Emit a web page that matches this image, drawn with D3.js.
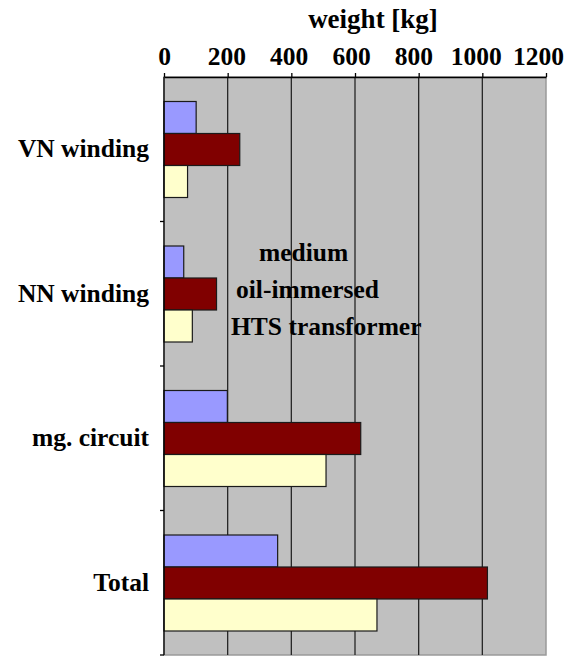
<!DOCTYPE html>
<html>
<head>
<meta charset="utf-8">
<script src="https://cdn.jsdelivr.net/npm/d3@7"></script>
<style>
	body { margin: 0; background: #fff; }
</style>
</head>
<body>
<svg id="chart" width="576" height="658"></svg>
<script>
var categories = ["VN winding", "NN winding", "mg. circuit", "Total"];
var seriesKeys = ["blue", "red", "yellow"];
var blueValues = [101, 62, 199, 357];
var redValues = [238, 165, 618, 1016];
var yellowValues = [74, 89, 509, 669];
var xTicks = [0, 200, 400, 600, 800, 1000, 1200];
var noteLines = ["medium", "oil-immersed", "HTS transformer"];

var seriesColor = { blue: "#9999ff", red: "#800000", yellow: "#ffffcc" };
var seriesValues = { blue: blueValues, red: redValues, yellow: yellowValues };

var fontFamily = "Liberation Serif, DejaVu Serif, serif";
var plotLeft = 164, plotRight = 546, plotTop = 77, plotBottom = 655;

var svg = d3.select("#chart");

var x = d3.scaleLinear().domain([0, 1200]).range([plotLeft, plotRight]);
var y0 = d3.scaleBand().domain(categories).range([plotTop, plotBottom]);
var y1 = d3.scaleBand().domain(seriesKeys)
	.range([24.5, y0.bandwidth() - 24]);

var styleText = function(sel, size){
	sel.attr("font-family", fontFamily)
		.attr("font-weight", "bold")
		.attr("font-size", size)
		.attr("fill", "#000");
};

// plot background
svg.append("rect")
	.attr("x", plotLeft).attr("y", plotTop)
	.attr("width", plotRight - plotLeft).attr("height", plotBottom - plotTop)
	.attr("fill", "#c0c0c0")
	.attr("stroke", "#9a9a9a")
	.attr("stroke-width", 1.5);

// gridlines
svg.append("g").selectAll("line").data(xTicks.slice(1, -1)).enter()
	.append("line")
	.attr("x1", function(d){ return x(d); })
	.attr("x2", function(d){ return x(d); })
	.attr("y1", plotTop).attr("y2", plotBottom)
	.attr("stroke", "#262626")
	.attr("stroke-width", 1.3);

// bars
var rows = [];
categories.forEach(function(c, i){
	seriesKeys.forEach(function(k){
		rows.push({ cat: c, key: k, value: seriesValues[k][i] });
	});
});
svg.append("g").selectAll("rect").data(rows).enter()
	.append("rect")
	.attr("x", x(0))
	.attr("y", function(d){ return y0(d.cat) + y1(d.key); })
	.attr("width", function(d){ return x(d.value) - x(0); })
	.attr("height", y1.bandwidth())
	.attr("fill", function(d){ return seriesColor[d.key]; })
	.attr("stroke", "#1a1a1a")
	.attr("stroke-width", 1.2);

// top axis
var xAxis = svg.append("g")
	.attr("transform", "translate(0," + plotTop + ")")
	.call(d3.axisTop(x).tickValues(xTicks).tickFormat(d3.format("d"))
		.tickSize(4).tickPadding(8).tickSizeOuter(0));
xAxis.call(styleText, 25);
xAxis.select(".domain").attr("stroke", "#000").attr("stroke-width", 1.3);
xAxis.selectAll(".tick line").attr("stroke", "#000").attr("stroke-width", 1.3);
xAxis.selectAll(".tick text")
	.call(styleText, 25.5)
	.attr("dx", function(d){ return -d / 1200 * 8; });

// left axis (category boundaries)
var yAxis = svg.append("g")
	.attr("transform", "translate(" + plotLeft + ",0)");
yAxis.append("line")
	.attr("x1", 0).attr("x2", 0).attr("y1", plotTop).attr("y2", plotBottom)
	.attr("stroke", "#000").attr("stroke-width", 1.3);
yAxis.selectAll("line.tk").data(categories.slice(1).concat([null])).enter()
	.append("line")
	.attr("class", "tk")
	.attr("x1", -4).attr("x2", 0)
	.attr("y1", function(d){ return d === null ? plotBottom : y0(d); })
	.attr("y2", function(d){ return d === null ? plotBottom : y0(d); })
	.attr("stroke", "#000").attr("stroke-width", 1.3);

// category labels
svg.append("g").selectAll("text").data(categories).enter()
	.append("text")
	.attr("x", 149)
	.attr("y", function(d){ return y0(d) + y0.bandwidth() / 2 + 8; })
	.attr("text-anchor", "end")
	.call(styleText, 25.5)
	.text(function(d){ return d; });

// axis title
svg.append("text")
	.attr("x", 373).attr("y", 28)
	.attr("text-anchor", "middle")
	.call(styleText, 27)
	.text("weight [kg]");

// annotation
svg.append("g").selectAll("text").data(noteLines).enter()
	.append("text")
	.attr("x", function(d, i){ return [259, 236, 231][i]; })
	.attr("y", function(d, i){ return 261 + i * 37; })
	.call(styleText, 25.5)
	.text(function(d){ return d; });
</script>
</body>
</html>
